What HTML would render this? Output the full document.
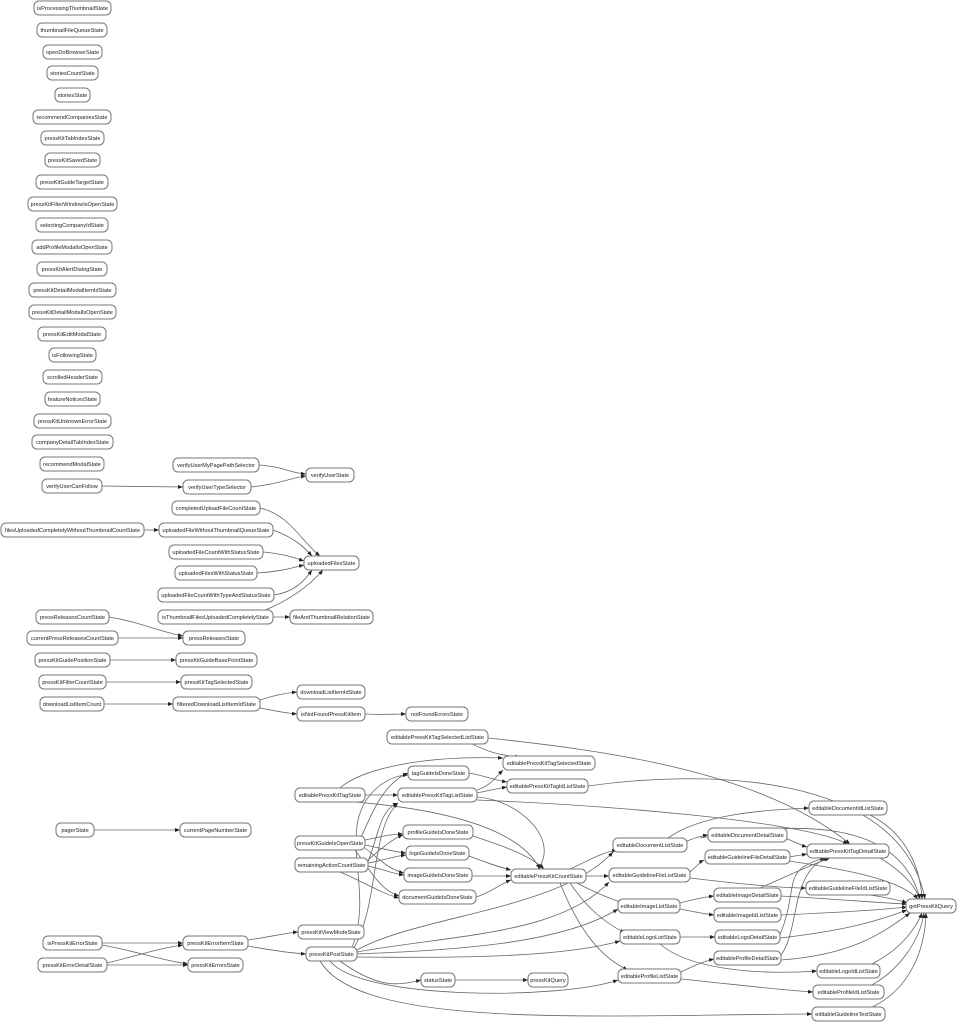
<!DOCTYPE html>
<html><head><meta charset="utf-8"><style>
html,body{margin:0;padding:0;background:#fff;}
svg{display:block;}
.n rect{fill:#fff;stroke:#777;stroke-width:1;}
.n text{font-family:"Liberation Sans",sans-serif;font-size:5.6px;fill:#222;text-anchor:middle;}
.e path{fill:none;stroke:#666;stroke-width:0.8;marker-end:url(#a);}
</style></head><body>
<svg width="958" height="1024" viewBox="0 0 958 1024" xmlns="http://www.w3.org/2000/svg">
<defs><marker id="a" viewBox="0 0 10 10" refX="10" refY="5" markerWidth="5" markerHeight="5" orient="auto" markerUnits="userSpaceOnUse"><path d="M0,1 L10,5 L0,9z" fill="#222"/></marker></defs>
<g class="e">
<path d="M259,465 C285,467 290,473 306,474"/>
<path d="M251,487 C280,484 290,478 306,476"/>
<path d="M102,486 L183,487"/>
<path d="M260,508 C290,515 300,540 320,556"/>
<path d="M144,530 L159,530"/>
<path d="M273,530 C295,538 305,548 312,556"/>
<path d="M263,552 C285,554 295,558 304,561"/>
<path d="M257,573 C280,572 295,567 304,565"/>
<path d="M274,595 C295,592 305,580 312,570"/>
<path d="M263,611 C290,600 310,585 323,570"/>
<path d="M273,617 L290,617"/>
<path d="M109,617 C140,622 160,632 183,636"/>
<path d="M118,638 L183,638"/>
<path d="M110,660 L176,660"/>
<path d="M106,682 L181,682"/>
<path d="M104,704 L173,704"/>
<path d="M260,700 C275,695 285,693 297,692"/>
<path d="M260,708 C275,711 285,713 297,714"/>
<path d="M365,714 C380,715 395,714 406,714"/>
<path d="M470,743 C485,750 495,755 520,757"/>
<path d="M488,738 C600,750 760,770 850,844"/>
<path d="M340,788 C360,770 420,755 503,758"/>
<path d="M365,795 L398,795"/>
<path d="M355,802 C450,810 520,830 540,869"/>
<path d="M469,773 C485,776 495,780 507,782"/>
<path d="M477,790 C490,786 495,778 503,770"/>
<path d="M477,793 C490,790 495,789 507,787"/>
<path d="M477,797 C520,800 560,840 538,869"/>
<path d="M477,800 C600,805 800,820 848,844"/>
<path d="M588,786 C700,770 900,770 925,899"/>
<path d="M355,850 C370,820 380,785 408,773"/>
<path d="M365,840 C380,837 390,834 403,834"/>
<path d="M365,845 C380,848 395,852 406,853"/>
<path d="M365,848 C380,860 390,870 404,873"/>
<path d="M355,850 C370,870 380,890 399,896"/>
<path d="M368,860 C380,850 390,840 403,835"/>
<path d="M368,863 C385,860 395,856 406,855"/>
<path d="M368,866 C385,870 395,874 404,875"/>
<path d="M340,872 C360,880 380,893 399,898"/>
<path d="M368,862 C380,830 380,810 398,803"/>
<path d="M473,836 C500,845 530,855 544,869"/>
<path d="M469,856 C485,862 495,866 511,870"/>
<path d="M472,876 L511,876"/>
<path d="M476,897 C490,893 500,884 511,880"/>
<path d="M570,869 C590,860 600,853 617,850"/>
<path d="M585,876 L609,876"/>
<path d="M575,882 C590,890 605,897 623,903"/>
<path d="M570,883 C585,905 600,920 625,933"/>
<path d="M560,883 C575,920 595,955 628,970"/>
<path d="M352,948 C370,900 350,860 358,820 C365,790 390,775 408,775"/>
<path d="M354,948 C380,900 370,830 398,803"/>
<path d="M357,950 C420,915 560,910 613,852"/>
<path d="M357,952 C450,935 560,935 609,882"/>
<path d="M357,954 C450,950 560,945 618,909"/>
<path d="M357,957 C450,958 560,958 620,941"/>
<path d="M330,961 C360,1000 560,1000 618,980"/>
<path d="M340,961 C380,990 400,985 421,980"/>
<path d="M320,961 C360,1030 600,1015 812,1014"/>
<path d="M455,980 L528,980"/>
<path d="M102,943 L183,943"/>
<path d="M102,945 C140,952 160,960 188,964"/>
<path d="M107,963 C140,955 160,948 183,945"/>
<path d="M107,965 L188,965"/>
<path d="M248,940 C270,937 285,933 298,932"/>
<path d="M248,946 C270,950 290,953 306,954"/>
<path d="M94,830 L180,830"/>
<path d="M687,841 C695,838 700,836 708,835"/>
<path d="M668,838 C700,815 760,810 809,808"/>
<path d="M785,838 C795,842 800,845 807,847"/>
<path d="M690,872 C697,866 700,862 704,860"/>
<path d="M690,878 C740,884 780,888 806,888"/>
<path d="M789,857 L807,854"/>
<path d="M789,861 C850,870 900,880 918,899"/>
<path d="M680,903 C695,899 705,897 714,896"/>
<path d="M680,909 C695,912 705,914 714,915"/>
<path d="M760,888 C790,875 810,865 830,858"/>
<path d="M781,896 C850,900 880,903 907,904"/>
<path d="M781,915 C850,912 880,910 907,907"/>
<path d="M680,937 L715,937"/>
<path d="M660,944 C690,970 760,975 817,971"/>
<path d="M780,935 C800,885 780,870 825,858"/>
<path d="M780,938 C850,930 880,920 907,910"/>
<path d="M681,972 C695,965 705,961 714,959"/>
<path d="M681,979 C740,985 780,990 813,992"/>
<path d="M781,955 C800,930 790,870 828,858"/>
<path d="M781,960 C850,955 880,935 910,913"/>
<path d="M870,815 C900,830 920,860 922,899"/>
<path d="M880,858 C900,870 915,885 920,899"/>
<path d="M700,838 C800,820 900,820 920,899"/>
<path d="M870,895 C890,898 900,900 907,903"/>
<path d="M870,965 C900,950 915,930 922,913"/>
<path d="M870,986 C900,970 920,940 924,913"/>
<path d="M870,1008 C910,990 925,950 926,913"/>
</g>
<g class="n">
<rect x="34" y="1" width="77" height="14" rx="5"/><text x="72.5" y="10">isProcessingThumbnailState</text>
<rect x="37" y="23" width="70" height="14" rx="5"/><text x="72" y="32">thumbnailFileQueueState</text>
<rect x="43" y="45" width="59" height="14" rx="5"/><text x="72.5" y="54">openDoBrowserState</text>
<rect x="47" y="66" width="51" height="14" rx="5"/><text x="72.5" y="75">storiesCountState</text>
<rect x="55" y="88" width="35" height="14" rx="5"/><text x="72.5" y="97">storiesState</text>
<rect x="33" y="110" width="78" height="14" rx="5"/><text x="72" y="119">recommendCompaniesState</text>
<rect x="41" y="131" width="63" height="14" rx="5"/><text x="72.5" y="140">pressKitTabIndexState</text>
<rect x="45" y="153" width="55" height="14" rx="5"/><text x="72.5" y="162">pressKitSavedState</text>
<rect x="36" y="175" width="72" height="14" rx="5"/><text x="72" y="184">pressKitGuideTargetState</text>
<rect x="28" y="197" width="89" height="14" rx="5"/><text x="72.5" y="206">pressKitFilterWindowIsOpenState</text>
<rect x="36" y="218" width="72" height="14" rx="5"/><text x="72" y="227">selectingCompanyIdState</text>
<rect x="32" y="240" width="80" height="14" rx="5"/><text x="72" y="249">addProfileModalIsOpenState</text>
<rect x="37" y="262" width="70" height="14" rx="5"/><text x="72" y="271">pressKitAlertDialogState</text>
<rect x="29" y="283" width="87" height="14" rx="5"/><text x="72.5" y="292">pressKitDetailModalItemIdState</text>
<rect x="29" y="305" width="87" height="14" rx="5"/><text x="72.5" y="314">pressKitDetailModalIsOpenState</text>
<rect x="38" y="327" width="68" height="14" rx="5"/><text x="72" y="336">pressKitEditModalState</text>
<rect x="49" y="348" width="47" height="14" rx="5"/><text x="72.5" y="357">isFollowingState</text>
<rect x="43" y="370" width="59" height="14" rx="5"/><text x="72.5" y="379">scrolledHeaderState</text>
<rect x="45" y="392" width="55" height="14" rx="5"/><text x="72.5" y="401">featureNoticesState</text>
<rect x="34" y="414" width="77" height="14" rx="5"/><text x="72.5" y="423">pressKitUnknownErrorState</text>
<rect x="32" y="435" width="81" height="14" rx="5"/><text x="72.5" y="444">companyDetailTabIndexState</text>
<rect x="40" y="457" width="64" height="14" rx="5"/><text x="72" y="466">recommendModalState</text>
<rect x="42" y="479" width="60" height="14" rx="5"/><text x="72" y="488">verifyUserCanFollow</text>
<rect x="173" y="458" width="86" height="14" rx="5"/><text x="216" y="467">verifyUserMyPagePathSelector</text>
<rect x="183" y="480" width="68" height="14" rx="5"/><text x="217" y="489">verifyUserTypeSelector</text>
<rect x="306" y="468" width="48" height="14" rx="5"/><text x="330" y="477">verifyUserState</text>
<rect x="172" y="501" width="88" height="14" rx="5"/><text x="216" y="510">completedUploadFileCountState</text>
<rect x="1" y="523" width="143" height="14" rx="5"/><text x="72.5" y="532">filesUploadedCompletelyWithoutThumbnailCountState</text>
<rect x="159" y="523" width="114" height="14" rx="5"/><text x="216" y="532">uploadedFileWithoutThumbnailQueueState</text>
<rect x="169" y="545" width="94" height="14" rx="5"/><text x="216" y="554">uploadedFileCountWithStatusState</text>
<rect x="175" y="566" width="82" height="14" rx="5"/><text x="216" y="575">uploadedFilesWithStatusState</text>
<rect x="158" y="588" width="116" height="14" rx="5"/><text x="216" y="597">uploadedFileCountWithTypeAndStatusState</text>
<rect x="304" y="556" width="55" height="14" rx="5"/><text x="331.5" y="565">uploadedFilesState</text>
<rect x="158" y="610" width="115" height="14" rx="5"/><text x="215.5" y="619">isThumbnailFilesUploadedCompletelyState</text>
<rect x="290" y="610" width="83" height="14" rx="5"/><text x="331.5" y="619">fileAndThumbnailRelationState</text>
<rect x="36" y="610" width="73" height="14" rx="5"/><text x="72.5" y="619">pressReleasesCountState</text>
<rect x="27" y="631" width="91" height="14" rx="5"/><text x="72.5" y="640">currentPressReleasesCountState</text>
<rect x="183" y="631" width="62" height="14" rx="5"/><text x="214" y="640">pressReleasesState</text>
<rect x="35" y="653" width="75" height="14" rx="5"/><text x="72.5" y="662">pressKitGuidePositionState</text>
<rect x="176" y="653" width="81" height="14" rx="5"/><text x="216.5" y="662">pressKitGuideBasePointState</text>
<rect x="39" y="675" width="67" height="14" rx="5"/><text x="72.5" y="684">pressKitFilterCountState</text>
<rect x="181" y="675" width="71" height="14" rx="5"/><text x="216.5" y="684">pressKitTagSelectedState</text>
<rect x="40" y="697" width="64" height="14" rx="5"/><text x="72" y="706">downloadListItemCount</text>
<rect x="173" y="697" width="87" height="14" rx="5"/><text x="216.5" y="706">filteredDownloadListItemIdState</text>
<rect x="297" y="685" width="68" height="14" rx="5"/><text x="331" y="694">downloadListItemIdState</text>
<rect x="297" y="707" width="68" height="14" rx="5"/><text x="331" y="716">isNotFoundPressKitItem</text>
<rect x="406" y="707" width="62" height="14" rx="5"/><text x="437" y="716">notFoundErrorsState</text>
<rect x="387" y="730" width="101" height="14" rx="5"/><text x="437.5" y="739">editablePressKitTagSelectedListState</text>
<rect x="503" y="756" width="92" height="14" rx="5"/><text x="549" y="765">editablePressKitTagSelectedState</text>
<rect x="408" y="766" width="61" height="14" rx="5"/><text x="438.5" y="775">tagGuideIsDoneState</text>
<rect x="295" y="788" width="70" height="14" rx="5"/><text x="330" y="797">editablePressKitTagState</text>
<rect x="398" y="788" width="79" height="14" rx="5"/><text x="437.5" y="797">editablePressKitTagListState</text>
<rect x="507" y="779" width="81" height="14" rx="5"/><text x="547.5" y="788">editablePressKitTagIdListState</text>
<rect x="56" y="823" width="38" height="14" rx="5"/><text x="75" y="832">pagerState</text>
<rect x="180" y="823" width="71" height="14" rx="5"/><text x="215.5" y="832">currentPageNumberState</text>
<rect x="295" y="836" width="70" height="14" rx="5"/><text x="330" y="845">pressKitGuideIsOpenState</text>
<rect x="295" y="858" width="73" height="14" rx="5"/><text x="331.5" y="867">remainingActionCountState</text>
<rect x="403" y="825" width="70" height="14" rx="5"/><text x="438" y="834">profileGuideIsDoneState</text>
<rect x="406" y="846" width="63" height="14" rx="5"/><text x="437.5" y="855">logoGuideIsDoneState</text>
<rect x="404" y="868" width="68" height="14" rx="5"/><text x="438" y="877">imageGuideIsDoneState</text>
<rect x="399" y="890" width="77" height="14" rx="5"/><text x="437.5" y="899">documentGuideIsDoneState</text>
<rect x="511" y="869" width="75" height="14" rx="5"/><text x="548.5" y="878">editablePressKitCountState</text>
<rect x="613" y="838" width="74" height="14" rx="5"/><text x="650" y="847">editableDocumentListState</text>
<rect x="609" y="868" width="81" height="14" rx="5"/><text x="649.5" y="877">editableGuidelineFileListState</text>
<rect x="618" y="899" width="62" height="14" rx="5"/><text x="649" y="908">editableImageListState</text>
<rect x="620" y="930" width="60" height="14" rx="5"/><text x="650" y="939">editableLogoListState</text>
<rect x="618" y="969" width="63" height="14" rx="5"/><text x="649.5" y="978">editableProfileListState</text>
<rect x="809" y="801" width="78" height="14" rx="5"/><text x="848" y="810">editableDocumentIdListState</text>
<rect x="708" y="828" width="79" height="14" rx="5"/><text x="747.5" y="837">editableDocumentDetailState</text>
<rect x="807" y="844" width="82" height="14" rx="5"/><text x="848" y="853">editablePressKitTagDetailState</text>
<rect x="705" y="850" width="85" height="14" rx="5"/><text x="747.5" y="859">editableGuidelineFileDetailState</text>
<rect x="806" y="881" width="84" height="14" rx="5"/><text x="848" y="890">editableGuidelineFileIdListState</text>
<rect x="714" y="888" width="67" height="14" rx="5"/><text x="747.5" y="897">editableImageDetailState</text>
<rect x="714" y="908" width="67" height="14" rx="5"/><text x="747.5" y="917">editableImageIdListState</text>
<rect x="715" y="930" width="65" height="14" rx="5"/><text x="747.5" y="939">editableLogoDetailState</text>
<rect x="714" y="951" width="67" height="14" rx="5"/><text x="747.5" y="960">editableProfileDetailState</text>
<rect x="817" y="964" width="63" height="14" rx="5"/><text x="848.5" y="973">editableLogoIdListState</text>
<rect x="813" y="985" width="71" height="14" rx="5"/><text x="848.5" y="994">editableProfileIdListState</text>
<rect x="812" y="1007" width="73" height="14" rx="5"/><text x="848.5" y="1016">editableGuidelineTextState</text>
<rect x="906" y="899" width="50" height="14" rx="5"/><text x="931" y="908">getPressKitQuery</text>
<rect x="43" y="936" width="59" height="14" rx="5"/><text x="72.5" y="945">isPressKitErrorState</text>
<rect x="38" y="958" width="69" height="14" rx="5"/><text x="72.5" y="967">pressKitErrorDetailState</text>
<rect x="183" y="936" width="65" height="14" rx="5"/><text x="215.5" y="945">pressKitErrorItemState</text>
<rect x="188" y="958" width="55" height="14" rx="5"/><text x="215.5" y="967">pressKitErrorsState</text>
<rect x="298" y="925" width="66" height="14" rx="5"/><text x="331" y="934">pressKitViewModeState</text>
<rect x="306" y="947" width="51" height="14" rx="5"/><text x="331.5" y="956">pressKitPostState</text>
<rect x="421" y="973" width="34" height="14" rx="5"/><text x="438" y="982">statusState</text>
<rect x="528" y="973" width="40" height="14" rx="5"/><text x="548" y="982">pressKitQuery</text>
</g>
</svg>
</body></html>
